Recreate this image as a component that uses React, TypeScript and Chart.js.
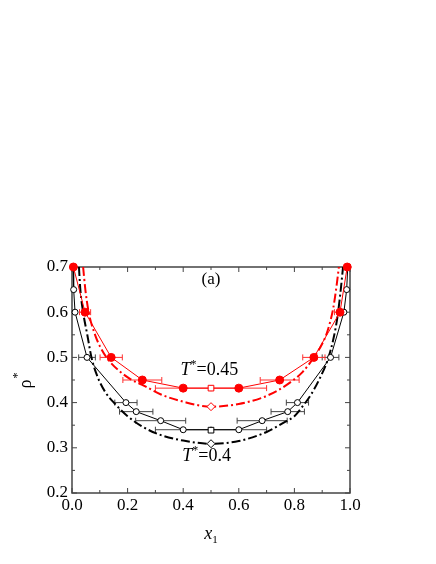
import React, { useEffect, useRef } from 'react';
import { Chart, registerables } from 'chart.js';

Chart.register(...registerables);

const RED = '#ff0000';
const BLACK = '#000000';
const SERIF = '"Liberation Serif", "Times New Roman", serif';

// T* = 0.45 simulation (filled red circles) with horizontal error half-widths
const redSimX = [0.005, 0.047, 0.141, 0.253, 0.4, 0.6, 0.747, 0.87, 0.964, 0.99];
const redSimY = [0.7, 0.6, 0.5, 0.45, 0.432, 0.432, 0.45, 0.5, 0.6, 0.7];
const redSimErr = [0, 0.02, 0.04, 0.07, 0.1, 0.1, 0.07, 0.04, 0.02, 0];

// T* = 0.4 simulation (open black circles)
const blackSimX = [0.004, 0.006, 0.011, 0.054, 0.194, 0.231, 0.319, 0.4, 0.6, 0.684, 0.776, 0.811, 0.93, 0.978, 0.988, 0.992];
const blackSimY = [0.7, 0.65, 0.6, 0.5, 0.4, 0.38, 0.36, 0.34, 0.34, 0.36, 0.38, 0.4, 0.5, 0.6, 0.65, 0.7];
const blackSimErr = [0, 0, 0, 0.03, 0.04, 0.06, 0.09, 0.1, 0.1, 0.09, 0.06, 0.04, 0.03, 0, 0, 0];

// Theory curves (dash-dot)
const redTheoryX = [0.04, 0.048, 0.06, 0.08, 0.1, 0.13, 0.17, 0.21, 0.26, 0.32, 0.4, 0.5, 0.6, 0.68, 0.74, 0.79, 0.83, 0.87, 0.9, 0.92, 0.94, 0.952, 0.96];
const redTheoryY = [0.7, 0.65, 0.6, 0.555, 0.525, 0.495, 0.47, 0.452, 0.437, 0.418, 0.402, 0.391, 0.397, 0.41, 0.427, 0.447, 0.468, 0.5, 0.53, 0.56, 0.61, 0.66, 0.7];

const blackTheoryX = [0.025, 0.03, 0.04, 0.055, 0.07, 0.09, 0.12, 0.155, 0.2, 0.25, 0.32, 0.4, 0.5, 0.6, 0.7, 0.76, 0.8, 0.83, 0.86, 0.89, 0.92, 0.94, 0.955, 0.965, 0.975];
const blackTheoryY = [0.7, 0.65, 0.6, 0.55, 0.5, 0.46, 0.423, 0.397, 0.37, 0.348, 0.328, 0.316, 0.309, 0.315, 0.335, 0.355, 0.37, 0.392, 0.418, 0.452, 0.495, 0.54, 0.59, 0.64, 0.7];

// Special markers at x1 = 0.5 (red square, black square, red diamond, black diamond)
const markerX = [0.5, 0.5, 0.5, 0.5];
const markerY = [0.432, 0.339, 0.391, 0.309];

// Axes ticks
const xMajorTicks = [0, 0.2, 0.4, 0.6, 0.8, 1.0];
const xMinorTicks = [0.1, 0.3, 0.5, 0.7, 0.9];
const yMajorTicks = [0.2, 0.3, 0.4, 0.5, 0.6, 0.7];
const yMinorTicks = [0.25, 0.35, 0.45, 0.55, 0.65];

const pts = (xs: number[], ys: number[]) => xs.map((x, i) => ({ x, y: ys[i] }));

const figPlugin = {
  id: 'figPlugin',
  beforeDatasetsDraw(chart: any) {
    const ctx = chart.ctx as CanvasRenderingContext2D;
    const xs = chart.scales.x;
    const ys = chart.scales.y;
    const { left, right, top, bottom } = chart.chartArea;
    ctx.save();
    ctx.strokeStyle = '#444';
    ctx.lineWidth = 1.5;
    ctx.strokeRect(left, top, right - left, bottom - top);
    ctx.lineWidth = 1;
    const seg = (x1: number, y1: number, x2: number, y2: number) => {
      ctx.beginPath();
      ctx.moveTo(x1, y1);
      ctx.lineTo(x2, y2);
      ctx.stroke();
    };
    xMajorTicks.forEach((v) => {
      const p = xs.getPixelForValue(v);
      seg(p, bottom, p, bottom - 5);
      seg(p, top, p, top + 5);
    });
    xMinorTicks.forEach((v) => {
      const p = xs.getPixelForValue(v);
      seg(p, bottom, p, bottom - 3);
      seg(p, top, p, top + 3);
    });
    yMajorTicks.forEach((v) => {
      const p = ys.getPixelForValue(v);
      seg(left, p, left + 5, p);
      seg(right, p, right - 5, p);
    });
    yMinorTicks.forEach((v) => {
      const p = ys.getPixelForValue(v);
      seg(left, p, left + 3, p);
      seg(right, p, right - 3, p);
    });
    const drawErr = (X: number[], Y: number[], E: number[], color: string) => {
      ctx.strokeStyle = color;
      ctx.lineWidth = 1;
      X.forEach((x, i) => {
        const e = E[i];
        if (!e) return;
        const py = ys.getPixelForValue(Y[i]);
        const pa = xs.getPixelForValue(x - e);
        const pb = xs.getPixelForValue(x + e);
        seg(pa, py, pb, py);
        seg(pa, py - 3, pa, py + 3);
        seg(pb, py - 3, pb, py + 3);
      });
    };
    drawErr(blackSimX, blackSimY, blackSimErr, '#444');
    drawErr(redSimX, redSimY, redSimErr, '#ff3030');
    ctx.restore();
  },
  afterDraw(chart: any) {
    const ctx = chart.ctx as CanvasRenderingContext2D;
    const xs = chart.scales.x;
    const ys = chart.scales.y;
    const { left, right, top, bottom } = chart.chartArea;
    ctx.save();
    ctx.fillStyle = '#000';
    ctx.textBaseline = 'alphabetic';

    const drawT = (value: string, cx: number, cy: number) => {
      const fs = 18;
      const sfs = 12;
      ctx.font = `italic ${fs}px ${SERIF}`;
      const wT = ctx.measureText('T').width;
      ctx.font = `${sfs}px ${SERIF}`;
      const wS = ctx.measureText('*').width;
      ctx.font = `${fs}px ${SERIF}`;
      const rest = '=' + value;
      const wR = ctx.measureText(rest).width;
      const total = wT + wS + wR;
      let x = cx - total / 2;
      const base = cy + fs * 0.33;
      ctx.textAlign = 'left';
      ctx.font = `italic ${fs}px ${SERIF}`;
      ctx.fillText('T', x, base);
      x += wT;
      ctx.font = `${sfs}px ${SERIF}`;
      ctx.fillText('*', x, base - 7);
      x += wS;
      ctx.font = `${fs}px ${SERIF}`;
      ctx.fillText(rest, x, base);
    };
    drawT('0.45', xs.getPixelForValue(0.494), ys.getPixelForValue(0.474));
    drawT('0.4', xs.getPixelForValue(0.484), ys.getPixelForValue(0.284));

    ctx.font = `17px ${SERIF}`;
    ctx.textAlign = 'center';
    ctx.textBaseline = 'middle';
    ctx.fillText('(a)', xs.getPixelForValue(0.5), ys.getPixelForValue(0.672));

    const cxTitle = (left + right) / 2;
    ctx.textBaseline = 'alphabetic';
    ctx.textAlign = 'left';
    ctx.font = `italic 18px ${SERIF}`;
    const wx = ctx.measureText('x').width;
    ctx.font = `11px ${SERIF}`;
    const w1 = ctx.measureText('1').width;
    const sx = cxTitle - (wx + w1) / 2;
    ctx.font = `italic 18px ${SERIF}`;
    ctx.fillText('x', sx, bottom + 46);
    ctx.font = `11px ${SERIF}`;
    ctx.fillText('1', sx + wx, bottom + 50);

    ctx.save();
    ctx.translate(31, (top + bottom) / 2 + 4);
    ctx.rotate(-Math.PI / 2);
    ctx.font = `18px ${SERIF}`;
    const wr = ctx.measureText('ρ').width;
    ctx.fillText('ρ', -wr / 2, 0);
    ctx.font = `12px ${SERIF}`;
    ctx.fillText('*', wr / 2 + 1, -10);
    ctx.restore();

    ctx.restore();
  },
};

export default function App() {
  const ref = useRef<HTMLCanvasElement | null>(null);
  useEffect(() => {
    document.body.style.margin = '0';
    const canvas = ref.current;
    if (!canvas) return;
    const tickFont = { family: SERIF, size: 17 };
    const chart = new Chart(canvas, {
      type: 'scatter',
      data: {
        datasets: [
          {
            data: pts(markerX, markerY),
            showLine: false,
            pointStyle: ['rect', 'rect', 'rectRot', 'rectRot'],
            pointRadius: [4, 4, 4, 4],
            pointBackgroundColor: '#ffffff',
            pointBorderColor: [RED, BLACK, RED, BLACK],
            pointBorderWidth: 1,
            clip: false,
          },
          {
            data: pts(redSimX, redSimY),
            showLine: true,
            borderColor: RED,
            borderWidth: 1,
            pointRadius: 4,
            pointBackgroundColor: RED,
            pointBorderColor: RED,
            pointBorderWidth: 1,
            clip: false,
          },
          {
            data: pts(blackSimX, blackSimY),
            showLine: true,
            borderColor: BLACK,
            borderWidth: 1,
            pointRadius: 3,
            pointBackgroundColor: '#ffffff',
            pointBorderColor: BLACK,
            pointBorderWidth: 1,
            clip: false,
          },
          {
            data: pts(redTheoryX, redTheoryY),
            showLine: true,
            borderColor: RED,
            borderWidth: 2,
            borderDash: [9, 3, 2, 3],
            pointRadius: 0,
            cubicInterpolationMode: 'monotone',
            clip: false,
          },
          {
            data: pts(blackTheoryX, blackTheoryY),
            showLine: true,
            borderColor: BLACK,
            borderWidth: 2,
            borderDash: [9, 3, 2, 3],
            pointRadius: 0,
            cubicInterpolationMode: 'monotone',
            clip: false,
          },
        ],
      } as any,
      options: {
        responsive: false,
        animation: false,
        events: [],
        layout: { padding: { left: 0, right: 86, top: 267, bottom: 0 } },
        plugins: { legend: { display: false }, tooltip: { enabled: false } },
        scales: {
          x: {
            type: 'linear',
            min: 0,
            max: 1,
            afterFit: (s: any) => {
              s.height = 71;
            },
            grid: { display: false, drawTicks: false },
            border: { display: false },
            ticks: {
              stepSize: 0.2,
              padding: 2,
              font: tickFont,
              color: '#000',
              maxRotation: 0,
              autoSkip: false,
              callback: (v: any) => Number(v).toFixed(1),
            },
          },
          y: {
            type: 'linear',
            min: 0.2,
            max: 0.7,
            afterFit: (s: any) => {
              s.width = 72;
            },
            grid: { display: false, drawTicks: false },
            border: { display: false },
            ticks: {
              stepSize: 0.1,
              padding: 4,
              font: tickFont,
              color: '#000',
              autoSkip: false,
              callback: (v: any) => Number(v).toFixed(1),
            },
          },
        },
      } as any,
      plugins: [figPlugin],
    });
    return () => chart.destroy();
  }, []);
  return (
    <div style={{ position: 'relative', width: 436, height: 564 }}>
      <canvas ref={ref} width={436} height={564} style={{ display: 'block' }} />
    </div>
  );
}
